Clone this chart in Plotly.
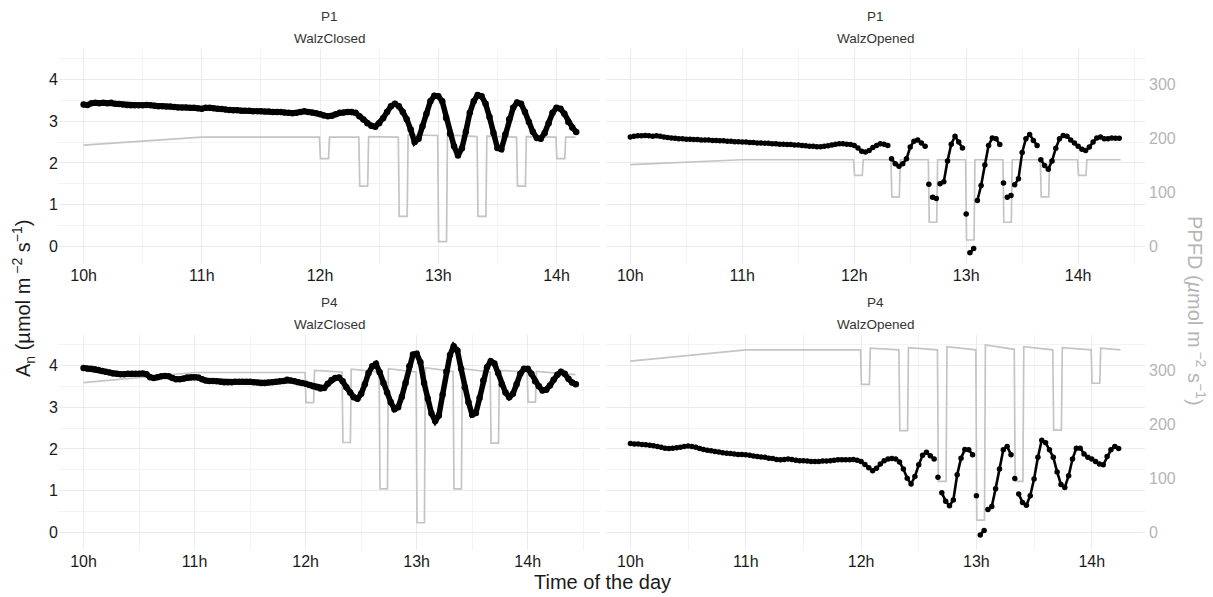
import plotly.graph_objects as go

# ---------------- data ----------------
# Net assimilation A_n, one reading every 2 minutes from 10h
an_p1_closed = [3.40, 3.39, 3.43, 3.44, 3.43, 3.44, 3.43, 3.44, 3.42, 3.41, 3.40, 3.39, 3.38, 3.38, 3.38, 3.38,
                3.39, 3.38, 3.37, 3.36, 3.36, 3.35, 3.35, 3.34, 3.33, 3.33, 3.33, 3.32, 3.32, 3.31, 3.30,
                3.32, 3.32, 3.31, 3.30, 3.29, 3.28, 3.27, 3.26, 3.26, 3.25, 3.25, 3.25, 3.24, 3.24, 3.24,
                3.23, 3.23, 3.22, 3.22, 3.22, 3.21, 3.20, 3.19, 3.20, 3.22, 3.24, 3.22, 3.21, 3.19, 3.17,
                3.14, 3.12, 3.13, 3.17, 3.20, 3.21, 3.22, 3.22, 3.20, 3.12, 3.04, 2.95, 2.89, 2.87, 2.95,
                3.07, 3.22, 3.36, 3.42, 3.36, 3.22, 3.05, 2.80, 2.50, 2.58, 2.88, 3.18, 3.48, 3.61, 3.60,
                3.48, 3.08, 2.70, 2.40, 2.18, 2.35, 2.75, 3.20, 3.48, 3.63, 3.60, 3.42, 3.10, 2.72, 2.36,
                2.33, 2.68, 3.05, 3.32, 3.45, 3.42, 3.22, 2.98, 2.75, 2.60, 2.58, 2.72, 2.95, 3.20, 3.32,
                3.30, 3.18, 2.98, 2.85, 2.74]

an_p1_opened = [2.62, 2.64, 2.65, 2.65, 2.66, 2.65, 2.64, 2.65, 2.64, 2.62, 2.61, 2.60, 2.59, 2.58, 2.58, 2.57,
                2.57, 2.56, 2.56, 2.55, 2.55, 2.55, 2.54, 2.54, 2.53, 2.53, 2.52, 2.52, 2.51, 2.51, 2.50,
                2.50, 2.49, 2.49, 2.48, 2.48, 2.47, 2.47, 2.46, 2.46, 2.45, 2.45, 2.44, 2.44, 2.43, 2.43,
                2.42, 2.41, 2.40, 2.40, 2.39, 2.39, 2.40, 2.41, 2.43, 2.45, 2.46, 2.46, 2.45, 2.44, 2.42,
                2.36, 2.28, 2.26, 2.30, 2.37, 2.42, 2.46, 2.45, 2.42, 2.10, 1.98, 1.92, 1.98, 2.10, 2.38,
                2.52, 2.55, 2.48, 2.40, 1.49, 1.18, 1.15, 1.50, 1.55, 2.05, 2.45, 2.64, 2.50, 2.36, 0.78,
                -0.15, -0.05, 1.10, 1.46, 1.95, 2.42, 2.60, 2.58, 2.44, 1.52, 1.18, 1.22, 1.48, 1.62, 2.25,
                2.58, 2.68, 2.54, 2.42, 2.08, 1.94, 1.85, 2.05, 2.35, 2.58, 2.66, 2.64, 2.55, 2.48, 2.40,
                2.33, 2.30, 2.38, 2.50, 2.60, 2.62, 2.58, 2.58, 2.60, 2.59, 2.59]

an_p4_closed = [3.94, 3.93, 3.92, 3.91, 3.89, 3.87, 3.85, 3.83, 3.81, 3.80, 3.79, 3.79, 3.80, 3.80, 3.80, 3.80,
                3.81, 3.79, 3.72, 3.70, 3.72, 3.74, 3.75, 3.74, 3.70, 3.67, 3.67, 3.69, 3.71, 3.72, 3.72,
                3.71, 3.67, 3.64, 3.63, 3.63, 3.62, 3.61, 3.60, 3.60, 3.60, 3.61, 3.61, 3.61, 3.61, 3.61,
                3.60, 3.59, 3.58, 3.58, 3.59, 3.60, 3.61, 3.62, 3.63, 3.66, 3.64, 3.62, 3.60, 3.58, 3.56,
                3.53, 3.50, 3.48, 3.45, 3.46, 3.56, 3.65, 3.70, 3.71, 3.62, 3.48, 3.35, 3.24, 3.20, 3.32,
                3.55, 3.82, 3.98, 4.04, 3.84, 3.58, 3.35, 3.12, 2.95, 3.00, 3.25, 3.58, 3.98, 4.26, 4.28,
                4.08, 3.58, 3.20, 2.85, 2.67, 2.80, 3.30, 3.85, 4.25, 4.46, 4.36, 3.92, 3.48, 3.12, 2.82,
                2.86, 3.22, 3.64, 3.96, 4.10, 4.05, 3.82, 3.55, 3.35, 3.24, 3.32, 3.55, 3.80, 3.92, 3.92,
                3.80, 3.62, 3.50, 3.40, 3.42, 3.52, 3.66, 3.78, 3.85, 3.80, 3.68, 3.59, 3.55]

an_p4_opened = [2.13, 2.12, 2.12, 2.11, 2.10, 2.09, 2.08, 2.06, 2.04, 2.02, 2.01, 2.02, 2.03, 2.04, 2.06, 2.07,
                2.06, 2.04, 2.01, 1.99, 1.97, 1.96, 1.94, 1.93, 1.91, 1.90, 1.89, 1.88, 1.87, 1.87, 1.86,
                1.85, 1.83, 1.82, 1.81, 1.80, 1.78, 1.77, 1.75, 1.74, 1.75, 1.76, 1.75, 1.73, 1.72, 1.72,
                1.71, 1.70, 1.70, 1.70, 1.71, 1.71, 1.72, 1.73, 1.74, 1.74, 1.74, 1.74, 1.75, 1.73, 1.70,
                1.63, 1.55, 1.48, 1.54, 1.64, 1.72, 1.76, 1.77, 1.76, 1.69, 1.52, 1.30, 1.16, 1.34, 1.62,
                1.85, 1.92, 1.84, 1.76, 1.32, 0.95, 0.75, 0.64, 0.78, 1.38, 1.78, 1.99, 1.98, 1.86, 0.88,
                -0.06, 0.05, 0.55, 0.62, 1.05, 1.52, 1.98, 2.06, 1.86, 1.29, 0.92, 0.72, 0.65, 0.88, 1.28,
                1.80, 2.21, 2.15, 1.98, 1.80, 1.45, 1.15, 1.08, 1.36, 1.76, 2.02, 2.02, 1.88, 1.80, 1.76,
                1.70, 1.64, 1.62, 1.82, 1.98, 2.06, 2.01]

# sample indices after which A_n jumps (readings not joined across these)
jumps_p1_opened = [69, 79, 80, 82, 89, 90, 92, 99, 100, 102, 109]
jumps_p4_opened = [79, 80, 89, 90, 92, 99, 100]

# PPFD light protocol: vertex times (h) shared by all panels, then one value list per panel
ppfd_knots = [10.0, 11.0,
              11.995, 12.003, 12.072, 12.08,
              12.328, 12.336, 12.403, 12.411,
              12.662, 12.67, 12.737, 12.745,
              12.995, 13.003, 13.07, 13.078,
              13.328, 13.336, 13.403, 13.411,
              13.662, 13.67, 13.737, 13.745,
              13.995, 14.003, 14.07, 14.078]
ppfd_p1_closed = [188, 203, 203, 163, 163, 203, 203, 112, 112, 204, 203, 56, 56, 207, 206, 9, 9, 207,
                  204, 56, 56, 205, 203, 112, 112, 204, 203, 163, 163, 203, 203]
ppfd_p1_opened = [152, 161, 161, 132, 132, 161, 161, 92, 92, 161, 161, 45, 45, 161, 161, 12, 12, 161,
                  161, 45, 45, 161, 161, 92, 92, 161, 161, 132, 132, 161, 161]
ppfd_p4_closed = [278, 297, 297, 241, 241, 301, 298, 167, 167, 303, 298, 81, 81, 304, 298, 18, 18, 306,
                  299, 81, 81, 304, 298, 166, 166, 301, 298, 242, 242, 299, 293]
ppfd_p4_opened = [318, 339, 339, 275, 275, 342, 339, 189, 189, 343, 339, 95, 95, 345, 339, 23, 23, 348,
                  340, 95, 95, 345, 339, 190, 190, 343, 339, 277, 277, 342, 339]
ppfd_end = [14.16, 14.38, 14.43, 14.25]

plants = ["P1", "P1", "P4", "P4"]
treatments = ["WalzClosed", "WalzOpened", "WalzClosed", "WalzOpened"]
hour_ticks = [10, 11, 12, 13, 14]
hour_labels = ["10h", "11h", "12h", "13h", "14h"]
an_ticks = [0, 1, 2, 3, 4]
ppfd_ticks = [0, 100, 200, 300]

# ---------------- layout constants ----------------
W, H = 1213, 597
K = 77.5  # PPFD units per A_n unit (secondary axis scaling)
AN_RANGE = [-0.42, 4.73]
PPFD_RANGE = [AN_RANGE[0] * K, AN_RANGE[1] * K]

XDOM_L = [59 / W, 600 / W]
XDOM_R = [606 / W, 1145 / W]
YDOM_T = [1 - 264 / H, 1 - 49 / H]
YDOM_B = [1 - 550 / H, 1 - 335 / H]

panels = [
    dict(an=an_p1_closed, ppfd=ppfd_p1_closed, jumps=None, xdom=XDOM_L, ydom=YDOM_T, xr=[9.792, 14.368], right=False, strip_y=(16.7, 39)),
    dict(an=an_p1_opened, ppfd=ppfd_p1_opened, jumps=jumps_p1_opened, xdom=XDOM_R, ydom=YDOM_T, xr=[9.783, 14.597], right=True, strip_y=(16.7, 39)),
    dict(an=an_p4_closed, ppfd=ppfd_p4_closed, jumps=None, xdom=XDOM_L, ydom=YDOM_B, xr=[9.779, 14.651], right=False, strip_y=(302, 324.5)),
    dict(an=an_p4_opened, ppfd=ppfd_p4_opened, jumps=jumps_p4_opened, xdom=XDOM_R, ydom=YDOM_B, xr=[9.788, 14.462], right=True, strip_y=(302, 324.5)),
]

FONT = "Liberation Sans, Arial, Helvetica, sans-serif"
GRID = "#ebebeb"
MINOR = "#f3f3f3"
PPFD_COL = "#c4c4c4"
PPFD_TXT = "#b5b5b5"

fig = go.Figure()
layout = dict(width=W, height=H, margin=dict(l=0, r=0, t=0, b=0),
              paper_bgcolor="white", plot_bgcolor="white", showlegend=False,
              font=dict(family=FONT, color="#1a1a1a"))
annotations = []

for k, p in enumerate(panels, start=1):
    sfx = "" if k == 1 else str(k)
    xa, ya_ppfd, ya_an = "x" + sfx, "y" + sfx, "y" + str(k + 4)
    t_ppfd = ppfd_knots + [ppfd_end[k - 1]]
    fig.add_trace(go.Scatter(x=t_ppfd, y=p["ppfd"], xaxis=xa, yaxis=ya_ppfd, mode="lines",
                             line=dict(color=PPFD_COL, width=1.7), hoverinfo="skip"))
    t_an = [10 + i / 30 for i in range(len(p["an"]))]
    if p["jumps"] is None:
        fig.add_trace(go.Scatter(x=t_an, y=p["an"], xaxis=xa, yaxis=ya_an, mode="lines+markers",
                                 marker=dict(color="black", size=6.5),
                                 line=dict(color="black", width=5.5)))
    else:
        lx, ly = [], []
        for i, (tt, vv) in enumerate(zip(t_an, p["an"])):
            lx.append(tt)
            ly.append(vv)
            if i in p["jumps"]:
                lx.append(None)
                ly.append(None)
        fig.add_trace(go.Scatter(x=lx, y=ly, xaxis=xa, yaxis=ya_an, mode="lines",
                                 line=dict(color="black", width=2.6), hoverinfo="skip"))
        fig.add_trace(go.Scatter(x=t_an, y=p["an"], xaxis=xa, yaxis=ya_an, mode="markers",
                                 marker=dict(color="black", size=5.5)))

    layout["xaxis" + sfx] = dict(domain=p["xdom"], range=p["xr"], anchor=ya_ppfd,
                                 tickmode="array", tickvals=hour_ticks, ticktext=hour_labels,
                                 showgrid=True, gridcolor=GRID, gridwidth=1, zeroline=False,
                                 showline=False, ticks="", tickfont=dict(size=16, color="#1a1a1a"),
                                 minor=dict(dtick=0.5, tick0=0, showgrid=True, gridcolor=MINOR, gridwidth=1))
    layout["yaxis" + sfx] = dict(domain=p["ydom"], range=PPFD_RANGE, anchor=xa, side="right",
                                 showgrid=False, zeroline=False, showline=False, ticks="",
                                 showticklabels=p["right"], tickmode="array", tickvals=ppfd_ticks,
                                 ticklabelstandoff=3,
                                 tickfont=dict(size=16, color=PPFD_TXT))
    layout["yaxis" + str(k + 4)] = dict(overlaying=ya_ppfd, anchor=xa, side="left", range=AN_RANGE,
                                        tickmode="array", tickvals=an_ticks,
                                        showticklabels=not p["right"], showgrid=True, gridcolor=GRID,
                                        gridwidth=1, zeroline=False, showline=False, ticks="",
                                        tickfont=dict(size=16, color="#1a1a1a"),
                                        minor=dict(dtick=0.5, tick0=0, showgrid=True, gridcolor=MINOR, gridwidth=1))
    cx = (p["xdom"][0] + p["xdom"][1]) / 2
    annotations.append(dict(x=cx, y=1 - p["strip_y"][0] / H, xref="paper", yref="paper",
                            text=plants[k - 1], showarrow=False, xanchor="center", yanchor="middle",
                            font=dict(size=13.5, color="#333333")))
    annotations.append(dict(x=cx, y=1 - p["strip_y"][1] / H, xref="paper", yref="paper",
                            text=treatments[k - 1], showarrow=False, xanchor="center", yanchor="middle",
                            font=dict(size=13.5, color="#333333")))

annotations.append(dict(x=602 / W, y=1 - 582 / H, xref="paper", yref="paper", text="Time of the day",
                        showarrow=False, xanchor="center", yanchor="middle",
                        font=dict(size=20, color="#1a1a1a")))
annotations.append(dict(x=23 / W, y=1 - 299 / H, xref="paper", yref="paper",
                        text="A<sub>n</sub> (µmol m<sup> −2</sup> s<sup>−1</sup>)", textangle=-90,
                        showarrow=False, xanchor="center", yanchor="middle",
                        font=dict(size=20, color="#1a1a1a")))
annotations.append(dict(x=1197 / W, y=1 - 311 / H, xref="paper", yref="paper",
                        text="PPFD (<i>µ</i>mol m<sup> −2</sup> s<sup>−1</sup>)", textangle=90,
                        showarrow=False, xanchor="center", yanchor="middle",
                        font=dict(size=20, color=PPFD_TXT)))
layout["annotations"] = annotations

fig.update_layout(**layout)
fig.write_html("out.html")
